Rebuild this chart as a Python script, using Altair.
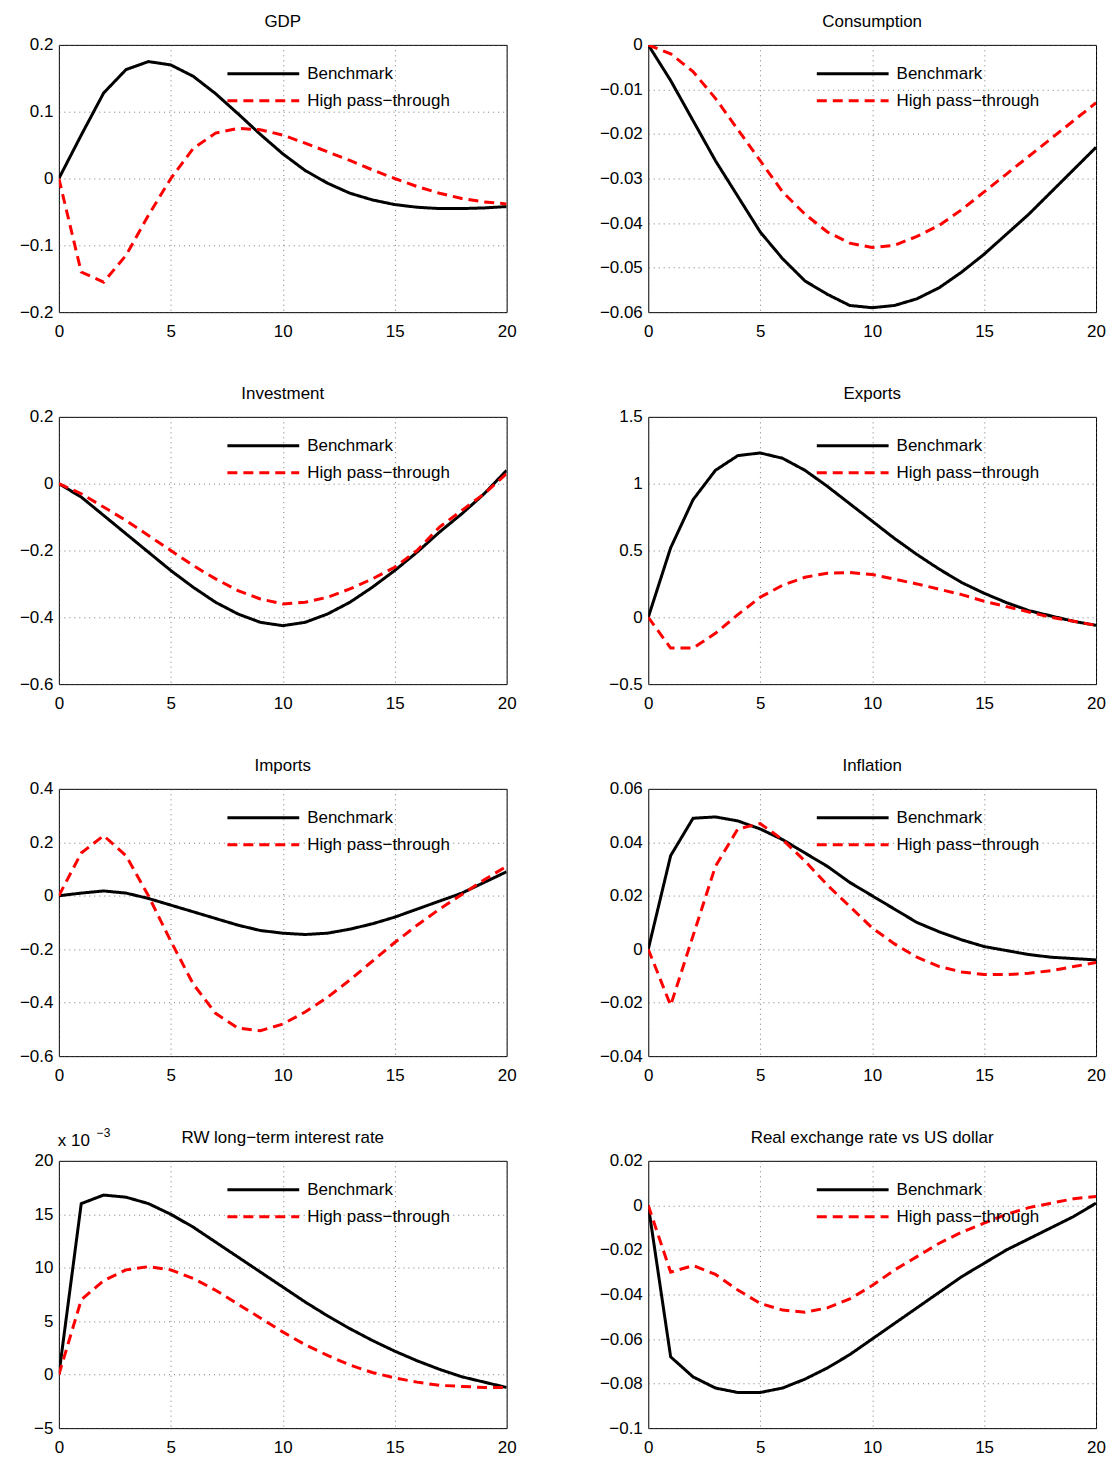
import pandas as pd
import altair as alt

periods = list(range(21))

gdp_bench = [0, 0.065, 0.128, 0.163, 0.175, 0.17, 0.153, 0.127, 0.097, 0.066, 0.037, 0.012, -0.007, -0.022, -0.032, -0.039, -0.043, -0.045, -0.045, -0.044, -0.042]
gdp_high = [0, -0.14, -0.155, -0.115, -0.055, 0.0, 0.045, 0.068, 0.075, 0.073, 0.065, 0.053, 0.04, 0.027, 0.013, 0.0, -0.012, -0.022, -0.03, -0.035, -0.038]
cons_bench = [0, -0.008, -0.017, -0.026, -0.034, -0.042, -0.048, -0.053, -0.056, -0.0585, -0.059, -0.0585, -0.057, -0.0545, -0.051, -0.047, -0.0425, -0.038, -0.033, -0.028, -0.023]
cons_high = [0, -0.002, -0.006, -0.012, -0.019, -0.026, -0.033, -0.038, -0.042, -0.0445, -0.0455, -0.045, -0.043, -0.0405, -0.037, -0.033, -0.029, -0.025, -0.021, -0.017, -0.013]
inv_bench = [0, -0.04, -0.095, -0.15, -0.205, -0.26, -0.31, -0.355, -0.39, -0.415, -0.425, -0.415, -0.39, -0.355, -0.31, -0.26, -0.205, -0.145, -0.09, -0.03, 0.04]
inv_high = [0, -0.03, -0.07, -0.11, -0.155, -0.2, -0.245, -0.285, -0.32, -0.345, -0.36, -0.355, -0.34, -0.315, -0.285, -0.25, -0.2, -0.13, -0.08, -0.03, 0.03]
exp_bench = [0, 0.52, 0.88, 1.1, 1.21, 1.23, 1.19, 1.1, 0.98, 0.85, 0.72, 0.59, 0.47, 0.36, 0.26, 0.18, 0.11, 0.05, 0.01, -0.03, -0.06]
exp_high = [0, -0.23, -0.23, -0.12, 0.02, 0.15, 0.24, 0.3, 0.33, 0.335, 0.32, 0.285, 0.25, 0.21, 0.17, 0.12, 0.08, 0.04, 0.0, -0.03, -0.06]
imp_bench = [0, 0.01, 0.018, 0.01, -0.01, -0.035, -0.06, -0.085, -0.11, -0.13, -0.14, -0.145, -0.14, -0.125, -0.105, -0.08, -0.05, -0.02, 0.01, 0.05, 0.09]
imp_high = [0, 0.16, 0.225, 0.15, 0.0, -0.17, -0.33, -0.44, -0.495, -0.505, -0.48, -0.435, -0.38, -0.315, -0.245, -0.175, -0.11, -0.05, 0.005, 0.06, 0.11]
infl_bench = [0, 0.035, 0.049, 0.0495, 0.048, 0.045, 0.041, 0.036, 0.031, 0.025, 0.02, 0.015, 0.01, 0.0065, 0.0035, 0.001, -0.0005, -0.002, -0.003, -0.0035, -0.004]
infl_high = [0, -0.021, 0.005, 0.031, 0.045, 0.047, 0.041, 0.033, 0.024, 0.016, 0.008, 0.002, -0.003, -0.0065, -0.0085, -0.0095, -0.0095, -0.009, -0.008, -0.0065, -0.005]
rw_bench = [0, 16, 16.8, 16.6, 16, 15, 13.8, 12.4, 11, 9.6, 8.2, 6.8, 5.5, 4.3, 3.2, 2.2, 1.3, 0.5, -0.2, -0.7, -1.2]
rw_high = [0, 7, 8.8, 9.8, 10.1, 9.8, 9, 7.9, 6.6, 5.3, 4, 2.8, 1.8, 0.9, 0.2, -0.3, -0.7, -1, -1.1, -1.2, -1.2]
rer_bench = [0, -0.068, -0.077, -0.082, -0.084, -0.084, -0.082, -0.078, -0.073, -0.067, -0.06, -0.053, -0.046, -0.039, -0.032, -0.026, -0.02, -0.015, -0.01, -0.005, 0.001]
rer_high = [0, -0.03, -0.027, -0.031, -0.038, -0.044, -0.047, -0.048, -0.046, -0.042, -0.036, -0.029, -0.023, -0.017, -0.012, -0.008, -0.004, -0.001, 0.001, 0.003, 0.004]

series_names = ["Benchmark", "High pass\u2212through"]
W, H = 449, 268
FONT = "Liberation Sans"
COLORS = ["black", "#ff0000"]
DASHES = [[1, 0], [10, 6]]


def text_at(s, x, y, size=17, align="left", baseline="middle", opacity=1):
    return alt.Chart(pd.DataFrame({"a": [s]})).mark_text(
        align=align, baseline=baseline, fontSize=size, font=FONT, opacity=opacity
    ).encode(x=alt.value(x), y=alt.value(y), text="a:N")


def legend_row(i, y):
    d = pd.DataFrame({"s": [series_names[i]]})
    rule = alt.Chart(d).mark_rule(strokeWidth=3, color=COLORS[i], strokeDash=DASHES[i]).encode(
        x=alt.value(169), x2=alt.value(241), y=alt.value(y))
    return [rule, text_at(series_names[i], 249, y)]


def panel(title, bench, high, lo, hi, step, extra=()):
    df = pd.DataFrame({
        "t": periods * 2,
        "v": bench + high,
        "s": [series_names[0]] * 21 + [series_names[1]] * 21,
    })
    n = int(round((hi - lo) / step))
    ticks = [round(lo + i * step, 6) for i in range(n + 1)]
    x = alt.X("t:Q", scale=alt.Scale(domain=[0, 20], nice=False),
              axis=alt.Axis(values=[0, 5, 10, 15, 20], title=None, labelPadding=11))
    y = alt.Y("v:Q", scale=alt.Scale(domain=[lo, hi], nice=False, zero=False),
              axis=alt.Axis(values=ticks, title=None,
                            labelExpr="replace(format(datum.value, ''), '-', '\u2212')"))
    lines = alt.Chart(df).mark_line(strokeWidth=3, clip=True).encode(
        x=x, y=y,
        color=alt.Color("s:N", scale=alt.Scale(domain=series_names, range=COLORS), legend=None),
        strokeDash=alt.StrokeDash("s:N", scale=alt.Scale(domain=series_names, range=DASHES), legend=None),
    )
    heading = text_at(title, W / 2, -14, align="center", baseline="bottom")
    spacer = text_at("x", 40, -21, size=12, baseline="bottom", opacity=0)
    layers = [lines] + legend_row(0, 29) + legend_row(1, 56) + [heading, spacer] + list(extra)
    return alt.layer(*layers).properties(width=W, height=H)


exp_note = text_at("x 10", -1, -11, baseline="bottom")
exp_sup = text_at("\u22123", 38, -21, size=12, baseline="bottom")


def row(a, b):
    return alt.hconcat(a, b, spacing=142, bounds="flush")


rows = [
    row(panel("GDP", gdp_bench, gdp_high, -0.2, 0.2, 0.1),
        panel("Consumption", cons_bench, cons_high, -0.06, 0, 0.01)),
    row(panel("Investment", inv_bench, inv_high, -0.6, 0.2, 0.2),
        panel("Exports", exp_bench, exp_high, -0.5, 1.5, 0.5)),
    row(panel("Imports", imp_bench, imp_high, -0.6, 0.4, 0.2),
        panel("Inflation", infl_bench, infl_high, -0.04, 0.06, 0.02)),
    row(panel("RW long\u2212term interest rate", rw_bench, rw_high, -5, 20, 5, extra=(exp_note, exp_sup)),
        panel("Real exchange rate vs US dollar", rer_bench, rer_high, -0.1, 0.02, 0.02)),
]

chart = alt.vconcat(*rows, spacing=42).properties(
    padding={"left": 10, "top": 0, "right": 5, "bottom": 5}
).configure(font=FONT, background="white").configure_axis(
    grid=True, gridDash=[1, 4], gridColor="#555555", gridOpacity=0.8,
    domain=False, ticks=False, labelFontSize=17, labelFont=FONT, labelColor="black",
    labelPadding=6, labelFlush=False,
).configure_view(stroke="black", strokeWidth=1)

chart.save("out.html", embed_options={"renderer": "svg", "actions": False})
